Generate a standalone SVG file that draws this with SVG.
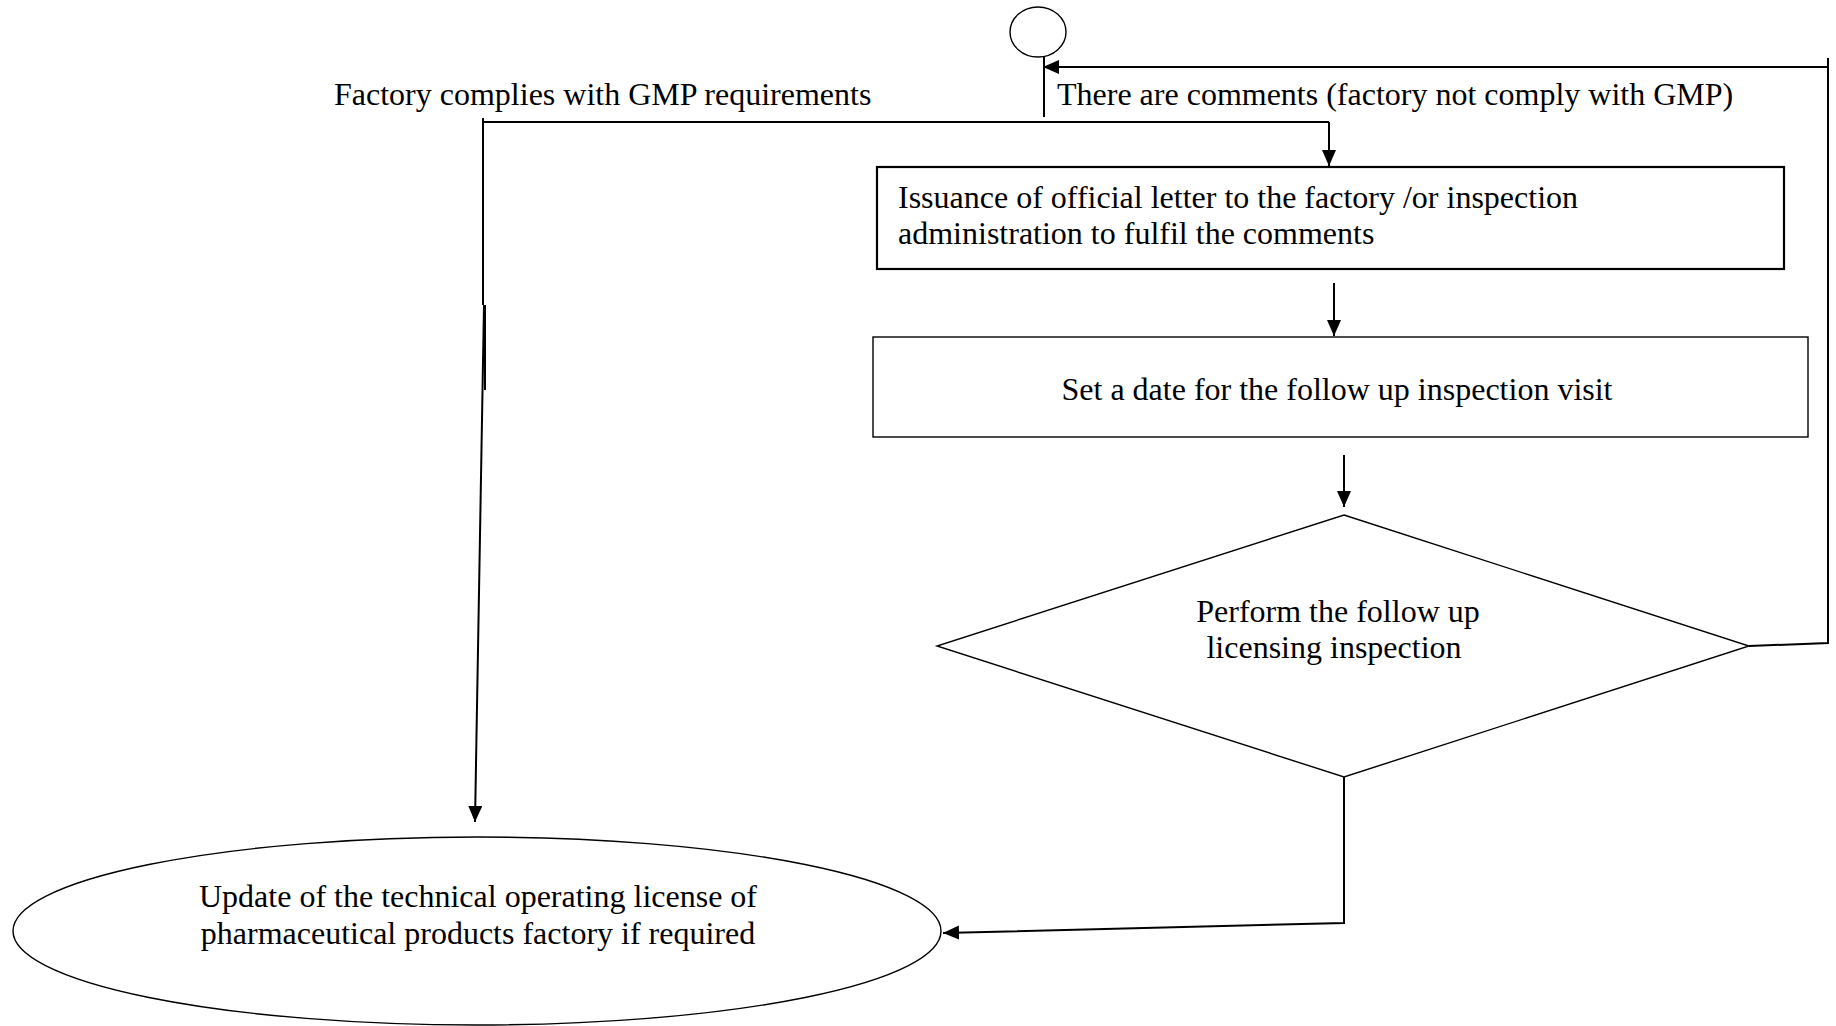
<svg xmlns="http://www.w3.org/2000/svg" width="1836" height="1026" viewBox="0 0 1836 1026">
<defs>
<marker id="ah" markerUnits="userSpaceOnUse" markerWidth="17" markerHeight="15" refX="16" refY="7" orient="auto">
<path d="M0,0 L16,7 L0,14 z" fill="#000"/>
</marker>
<style>
.t{font-family:"Liberation Serif","Times New Roman",serif;font-size:32px;fill:#000}
.m{text-anchor:middle}
.s{fill:#fff;stroke:#000;stroke-width:1.4}
.c{fill:none;stroke:#000;stroke-width:2}
.a{fill:none;stroke:#000;stroke-width:2;marker-end:url(#ah)}
</style>
</defs>
<rect width="1836" height="1026" fill="#fff"/>
<g id="connectors">
<line class="c" x1="1044" y1="57" x2="1044" y2="117"/>
<polyline class="c" points="483,118 483,122 1329,122"/>
<line class="a" x1="1329" y1="122" x2="1329" y2="166"/>
<line class="a" x1="1334" y1="283" x2="1334" y2="336"/>
<line class="a" x1="1344" y1="455" x2="1344" y2="507"/>
<polyline class="c" points="1749,646 1828,643 1828,58"/>
<line class="a" x1="1828" y1="67" x2="1043" y2="67"/>
<polyline class="a" points="1344,777 1344,923 943,933"/>
<line class="c" x1="483" y1="118" x2="483" y2="305"/>
<line class="a" x1="484" y1="305" x2="475" y2="822"/>
<line class="c" x1="485" y1="305" x2="485" y2="390"/>
<text class="t" x="334" y="105">Factory complies with GMP requirements</text>
<text class="t" x="1057" y="105">There are comments (factory not comply with GMP)</text>
</g>
<g id="start">
<ellipse class="s" cx="1038" cy="32" rx="28" ry="25"/>
</g>
<g id="letter">
<rect x="877" y="167" width="907" height="102" fill="#fff" stroke="#000" stroke-width="2.2"/>
<text class="t" x="898" y="208">Issuance of official letter to the factory /or inspection</text>
<text class="t" x="898" y="244">administration to fulfil the comments</text>
</g>
<g id="date">
<rect class="s" x="873" y="337" width="935" height="100"/>
<text class="t m" x="1337" y="400">Set a date for the follow up inspection visit</text>
</g>
<g id="inspection">
<polygon class="s" points="1344,515 1749,646 1344,777 937,646"/>
<text class="t m" x="1338" y="622">Perform the follow up</text>
<text class="t m" x="1334" y="658">licensing inspection</text>
</g>
<g id="update">
<ellipse class="s" cx="477" cy="931" rx="464" ry="94"/>
<text class="t m" x="478" y="907">Update of the technical operating license of</text>
<text class="t m" x="478" y="944">pharmaceutical products factory if required</text>
</g>
</svg>
